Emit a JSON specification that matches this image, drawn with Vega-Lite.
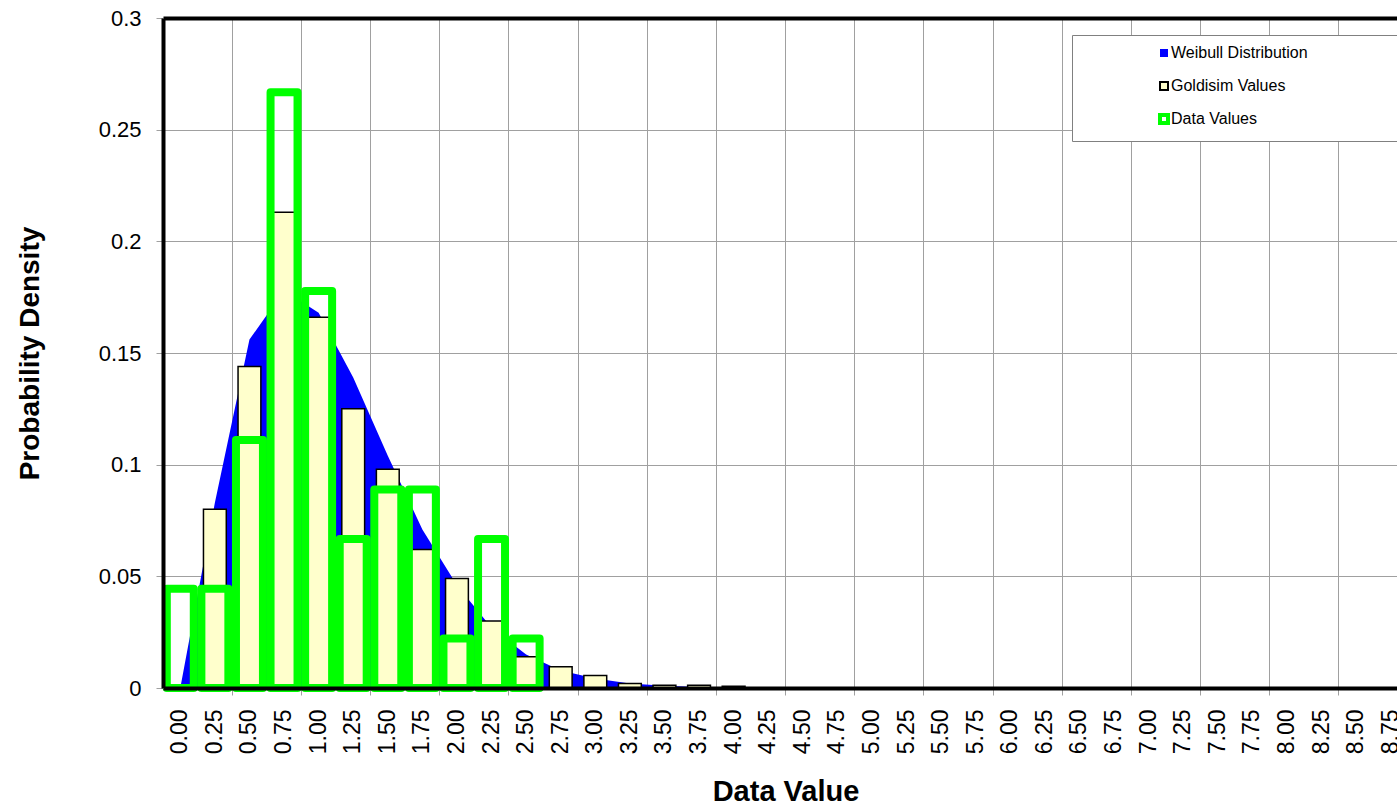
{
  "$schema": "https://vega.github.io/schema/vega-lite/v6.json",
  "width": 1234,
  "height": 670,
  "autosize": "none",
  "padding": {"left": 163, "top": 18, "right": 0, "bottom": 120},
  "background": "white",
  "config": {"view": {"stroke": null}, "font": "Liberation Sans"},
  "data": {
    "values": [
      {"x": "0.00", "weibull": 0, "goldisim": 0, "data": 0.0444},
      {"x": "0.25", "weibull": 0.083, "goldisim": 0.080, "data": 0.0444},
      {"x": "0.50", "weibull": 0.156, "goldisim": 0.144, "data": 0.1111},
      {"x": "0.75", "weibull": 0.178, "goldisim": 0.213, "data": 0.2667},
      {"x": "1.00", "weibull": 0.168, "goldisim": 0.166, "data": 0.1778},
      {"x": "1.25", "weibull": 0.139, "goldisim": 0.125, "data": 0.0667},
      {"x": "1.50", "weibull": 0.104, "goldisim": 0.098, "data": 0.0889},
      {"x": "1.75", "weibull": 0.071, "goldisim": 0.062, "data": 0.0889},
      {"x": "2.00", "weibull": 0.046, "goldisim": 0.049, "data": 0.0222},
      {"x": "2.25", "weibull": 0.027, "goldisim": 0.030, "data": 0.0667},
      {"x": "2.50", "weibull": 0.015, "goldisim": 0.014, "data": 0.0222},
      {"x": "2.75", "weibull": 0.0078, "goldisim": 0.0095, "data": 0},
      {"x": "3.00", "weibull": 0.0042, "goldisim": 0.0056, "data": 0},
      {"x": "3.25", "weibull": 0.002, "goldisim": 0.002, "data": 0},
      {"x": "3.50", "weibull": 0.001, "goldisim": 0.0012, "data": 0},
      {"x": "3.75", "weibull": 0.0005, "goldisim": 0.0012, "data": 0},
      {"x": "4.00", "weibull": 0.0002, "goldisim": 0.0008, "data": 0},
      {"x": "4.25", "weibull": 0, "goldisim": 0, "data": 0},
      {"x": "4.50", "weibull": 0, "goldisim": 0, "data": 0},
      {"x": "4.75", "weibull": 0, "goldisim": 0, "data": 0},
      {"x": "5.00", "weibull": 0, "goldisim": 0, "data": 0},
      {"x": "5.25", "weibull": 0, "goldisim": 0, "data": 0},
      {"x": "5.50", "weibull": 0, "goldisim": 0, "data": 0},
      {"x": "5.75", "weibull": 0, "goldisim": 0, "data": 0},
      {"x": "6.00", "weibull": 0, "goldisim": 0, "data": 0},
      {"x": "6.25", "weibull": 0, "goldisim": 0, "data": 0},
      {"x": "6.50", "weibull": 0, "goldisim": 0, "data": 0},
      {"x": "6.75", "weibull": 0, "goldisim": 0, "data": 0},
      {"x": "7.00", "weibull": 0, "goldisim": 0, "data": 0},
      {"x": "7.25", "weibull": 0, "goldisim": 0, "data": 0},
      {"x": "7.50", "weibull": 0, "goldisim": 0, "data": 0},
      {"x": "7.75", "weibull": 0, "goldisim": 0, "data": 0},
      {"x": "8.00", "weibull": 0, "goldisim": 0, "data": 0},
      {"x": "8.25", "weibull": 0, "goldisim": 0, "data": 0},
      {"x": "8.50", "weibull": 0, "goldisim": 0, "data": 0},
      {"x": "8.75", "weibull": 0, "goldisim": 0, "data": 0}
    ]
  },
  "resolve": {"axis": {"x": "independent", "y": "independent"}},
  "layer": [
    {
      "mark": {"type": "area", "opacity": 1, "interpolate": "linear"},
      "encoding": {
        "x": {
          "field": "x", "type": "ordinal", "bandPosition": 0.5,
          "scale": {"type": "band", "paddingInner": 0, "paddingOuter": 0, "range": [0, 1245]},
          "axis": {
            "orient": "bottom", "labelAngle": -90, "labelFontSize": 23, "labelColor": "black",
            "labelPadding": 21, "ticks": false, "grid": false, "domain": true,
            "domainColor": "black", "domainWidth": 4, "title": "Data Value",
            "titleFontSize": 29, "titleFontWeight": "bold", "titleColor": "black",
            "titlePadding": 24, "zindex": 1, "labelOverlap": false
          }
        },
        "y": {
          "field": "weibull", "type": "quantitative", "stack": null,
          "scale": {"domain": [0, 0.3], "nice": false, "zero": true},
          "axis": {
            "orient": "left", "values": [0, 0.05, 0.1, 0.15, 0.2, 0.25, 0.3], "format": "~g",
            "labelFontSize": 22, "labelColor": "black", "labelPadding": 15,
            "tickSize": 7, "tickColor": "#A0A0A0", "tickWidth": 1, "grid": false,
            "domainColor": "black", "domainWidth": 4,
            "title": "Probability Density", "titleFontSize": 28, "titleFontWeight": "bold",
            "titleColor": "black", "titlePadding": 54, "zindex": 1
          }
        },
        "fill": {
          "datum": "Weibull Distribution", "type": "nominal",
          "scale": {
            "domain": ["Weibull Distribution", "Goldisim Values", "Data Values"],
            "range": ["#0000FF", "#FFFFCC", "#FFFFFF"]
          },
          "legend": {
            "orient": "none", "legendX": 909, "legendY": 17, "title": null,
            "fillColor": "white", "strokeColor": "#808080", "padding": 10,
            "symbolOffset": 74, "symbolType": "square", "symbolSize": 64,
            "labelFontSize": 16, "labelColor": "black", "rowPadding": 9, "labelOffset": -1,
            "gridAlign": "all", "labelLimit": 800,
            "labelExpr": "datum.label + '\u00a0\u00a0\u00a0\u00a0\u00a0\u00a0\u00a0\u00a0\u00a0\u00a0\u00a0\u00a0\u00a0\u00a0\u00a0\u00a0\u00a0\u00a0\u00a0\u00a0\u00a0\u00a0\u00a0\u00a0\u200b'"
          }
        },
        "stroke": {
          "datum": "Weibull Distribution", "type": "nominal",
          "scale": {
            "domain": ["Weibull Distribution", "Goldisim Values", "Data Values"],
            "range": ["#0000FF", "#000000", "#00FF00"]
          },
          "legend": {"orient": "none", "legendX": 909, "legendY": 17, "title": null}
        },
        "strokeWidth": {
          "datum": "Weibull Distribution", "type": "nominal",
          "scale": {
            "type": "ordinal",
            "domain": ["Weibull Distribution", "Goldisim Values", "Data Values"],
            "range": [0, 2, 4]
          },
          "legend": {"orient": "none", "legendX": 909, "legendY": 17, "title": null}
        }
      }
    },
    {
      "transform": [{"filter": "datum.goldisim > 0"}],
      "mark": {"type": "bar", "fill": "#FFFFCC", "stroke": "black", "strokeWidth": 1.5, "opacity": 1, "width": {"band": 0.66}},
      "encoding": {
        "x": {
          "field": "x", "type": "ordinal",
          "axis": {
            "orient": "bottom",
            "values": ["0.50", "1.00", "1.50", "2.00", "2.50", "3.00", "3.50", "4.00", "4.50", "5.00", "5.50", "6.00", "6.50", "7.00", "7.50", "8.00", "8.50"],
            "bandPosition": 0, "labels": false, "ticks": true, "tickSize": 7,
            "tickColor": "#A0A0A0", "tickWidth": 1, "grid": true, "gridColor": "#A0A0A0",
            "gridWidth": 1, "domain": false, "title": null
          }
        },
        "y": {
          "field": "goldisim", "type": "quantitative", "stack": null,
          "axis": {
            "orient": "left", "values": [0.05, 0.1, 0.15, 0.2, 0.25], "labels": false,
            "ticks": false, "domain": false, "grid": true, "gridColor": "#A0A0A0",
            "gridWidth": 1, "title": null
          }
        }
      }
    },
    {
      "transform": [{"filter": "datum.data > 0"}],
      "mark": {"type": "bar", "filled": false, "color": "#00FF00", "strokeWidth": 8, "strokeJoin": "round", "opacity": 1, "width": {"band": 0.78}},
      "encoding": {
        "x": {
          "field": "x", "type": "ordinal",
          "axis": {
            "orient": "top", "labels": false, "ticks": false, "grid": false, "domain": true,
            "domainColor": "black", "domainWidth": 4, "title": null, "zindex": 1
          }
        },
        "y": {"field": "data", "type": "quantitative", "stack": null, "axis": null}
      }
    }
  ]
}
